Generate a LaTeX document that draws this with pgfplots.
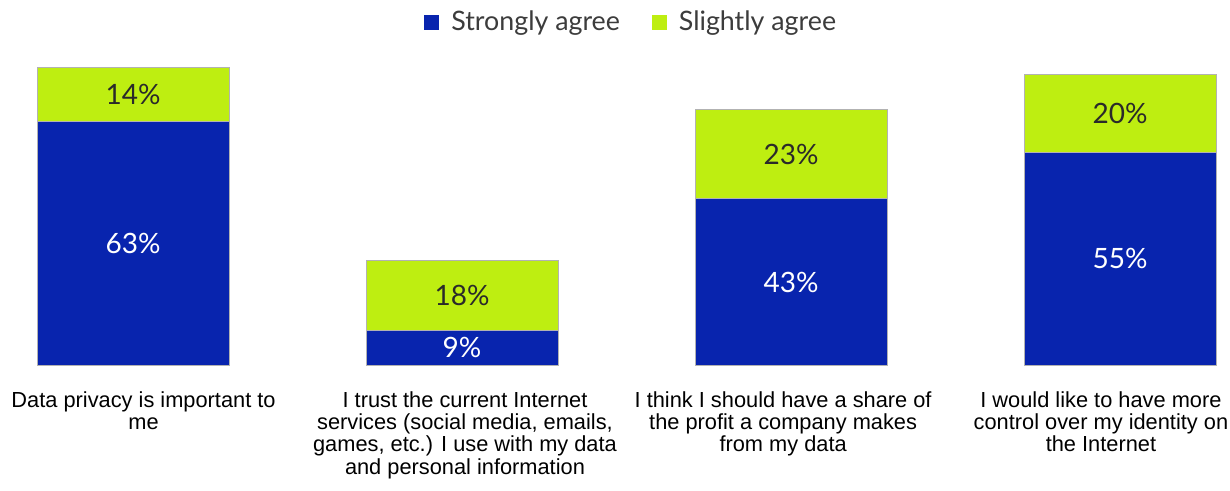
\documentclass[border=0pt]{standalone}
\usepackage{pgfplots}
\usepackage{pgfplotstable}
\pgfplotsset{compat=1.18}
\usepackage{fontspec}
\setmainfont{Liberation Sans}
\newfontfamily\lato{Lato}
\definecolor{sblue}{RGB}{8,36,174}
\definecolor{sgreen}{RGB}{190,238,17}
\definecolor{txtgray}{RGB}{60,60,60}

\pgfplotstableread{
x strong slight
0 63 14
1 9 18
2 43 23
3 55 20
}\agreedata

\begin{document}
\begin{tikzpicture}
\begin{axis}[
  scale only axis,
  width=615bp, height=182.5bp,
  xmin=-0.4043, xmax=3.3343,
  ymin=0, ymax=94.3,
  ybar stacked,
  bar width=96bp,
  clip=false,
  axis line style={draw=none},
  major tick length=0pt,
  ytick=\empty,
  xtick={0.032,1.009,1.976,2.942},
  xticklabels={
    {Data privacy is important to\\me},
    {I trust the current Internet\\services (social media, emails,\\games, etc.) I use with my data\\and personal information},
    {I think I should have a share of\\the profit a company makes\\from my data},
    {I would like to have more\\control over my identity on\\the Internet}},
  xticklabel style={anchor=north, align=center, yshift=-9.5bp, inner xsep=0pt,
    font=\fontsize{10.9bp}{11.2bp}\selectfont, text=black},
  legend columns=2,
  legend style={at={(0.514,0.94)}, anchor=center, draw=none, fill=none,
    font=\lato\fontsize{13.4bp}{15bp}\selectfont, text=txtgray,
    /tikz/every even column/.append style={column sep=14bp}},
  legend image code/.code={\fill[#1,draw=none] (0bp,-3.75bp) rectangle (7.5bp,3.75bp);},
  nodes near coords={\pgfmathprintnumber[assume math mode=true]{\rawy}\%},
  every node near coord/.append style={font=\lato\fontsize{14bp}{16bp}\selectfont,
    anchor=center},
]
\addplot[fill=sblue, draw=gray!60, line width=0.5bp,
  visualization depends on={\thisrow{strong} \as \rawy},
  every node near coord/.append style={text=white}]
  table[x=x, y=strong] {\agreedata};
\addplot[fill=sgreen, draw=gray!60, line width=0.5bp,
  visualization depends on={\thisrow{slight} \as \rawy},
  every node near coord/.append style={text=txtgray!70!black}]
  table[x=x, y=slight] {\agreedata};
\legend{\hspace{4bp}Strongly agree, \hspace{4bp}Slightly agree}
\path (rel axis cs:0,1) rectangle (rel axis cs:1,-0.3425);
\end{axis}
\end{tikzpicture}
\end{document}
